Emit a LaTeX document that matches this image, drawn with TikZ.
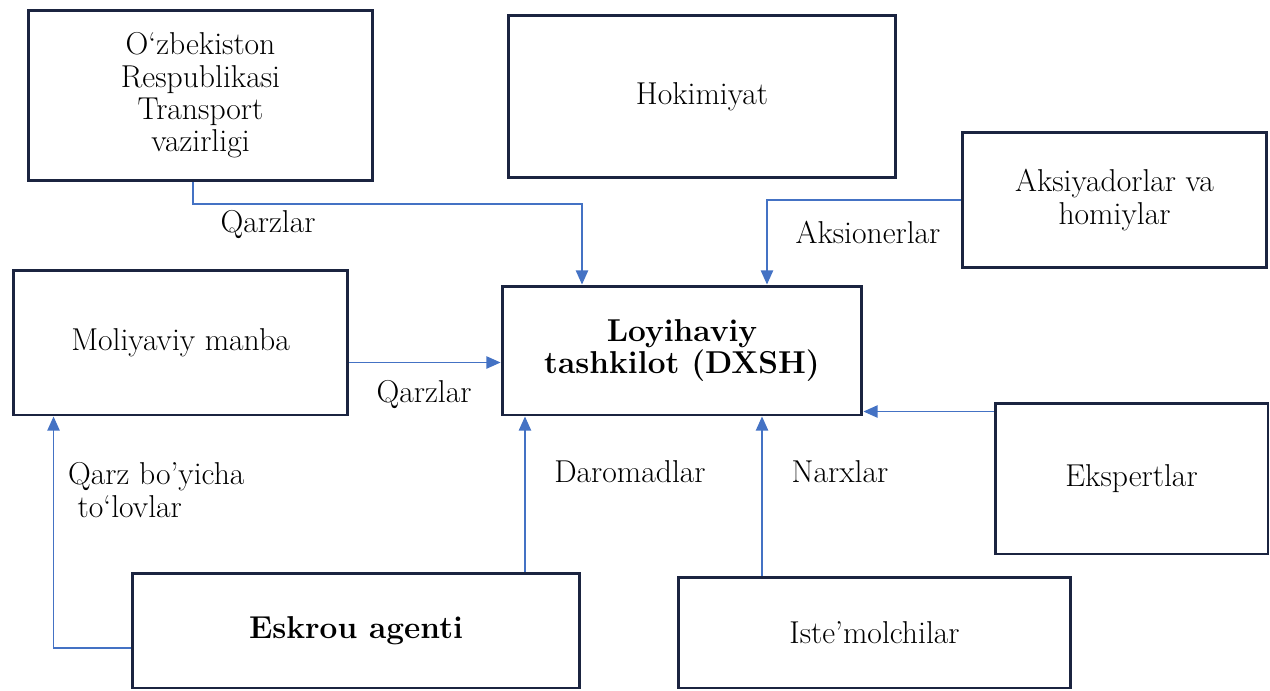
\documentclass[tikz,border=0pt]{standalone}
\usetikzlibrary{arrows.meta}
\definecolor{boxline}{HTML}{1B2440}
\definecolor{flow}{HTML}{4472C4}
\begin{document}
\begin{tikzpicture}[x=0.02cm, y=-0.02cm,
            every node/.style = {font=\fontsize{18}{18.4}\selectfont, align=center},
            box/.style = {draw=boxline, line width=1.7pt, inner sep=0pt},
            arr/.style = {draw=flow, line width=0.7pt, -{Triangle[width=7pt,length=8pt]}}]
            \useasboundingbox (0,0) rectangle (1270,690);
            \node[box, minimum width=6.9cm, minimum height=3.42cm] (trans) at (200.5,95.5) {O‘zbekiston\\Respublikasi\\Transport\\vazirligi};
            \node[box, minimum width=7.76cm, minimum height=3.26cm] (hokim) at (702,96.5) {Hokimiyat};
            \node[box, minimum width=6.1cm, minimum height=2.72cm] (aksiya) at (1114.5,200) {Aksiyadorlar va\\homiylar};
            \node[box, minimum width=6.7cm, minimum height=2.9cm] (moliya) at (180.5,342.5) {Moliyaviy manba};
            \node[box, minimum width=7.2cm, minimum height=2.58cm] (loyiha) at (682,350.5) {\bfseries Loyihaviy\\\bfseries tashkilot (DXSH)};
            \node[box, minimum width=5.46cm, minimum height=3.02cm] (ekspert) at (1131.5,478.5) {Ekspertlar};
            \node[box, minimum width=8.96cm, minimum height=2.3cm] (eskrou) at (356,630.5) {\bfseries Eskrou agenti};
            \node[box, minimum width=7.86cm, minimum height=2.22cm] (istemol) at (874.5,632.5) {Iste’molchilar};
            \coordinate (q1) at (582,204);
            \draw[arr] ([xshift=-0.15cm]trans.south) |- (q1) -- (q1 |- loyiha.north);
            \draw[arr] (aksiya.west) -| ([xshift=1.7cm]loyiha.north);
            \draw[arr] ([yshift=-0.4cm]moliya.east) -- ([yshift=-0.4cm]moliya.east -| loyiha.west);
            \draw[arr] ([yshift=-0.2cm]ekspert.north west) -- ([yshift=-0.2cm]ekspert.north west -| loyiha.east);
            \draw[arr] ([xshift=3.38cm]eskrou.north) -- ([xshift=3.38cm]eskrou.north |- loyiha.south);
            \draw[arr] ([xshift=-2.25cm]istemol.north) -- ([xshift=-2.25cm]istemol.north |- loyiha.south);
            \draw[arr] ([yshift=-0.35cm]eskrou.west) -| ([xshift=0.84cm]moliya.south west);
            \node (lqarz1) at (268,225) {Qarzlar};
            \node (laksion) at (868,232) {Aksionerlar};
            \node (lqarz2) at (424,395) {Qarzlar};
            \node (ldaromad) at (630,472) {Daromadlar};
            \node (lnarx) at (840,472) {Narxlar};
            \node[anchor=west, align=left] (ltolov) at (62,490) {Qarz bo’yicha\\\hspace{0.3em}to‘lovlar};
        \end{tikzpicture}
\end{document}
